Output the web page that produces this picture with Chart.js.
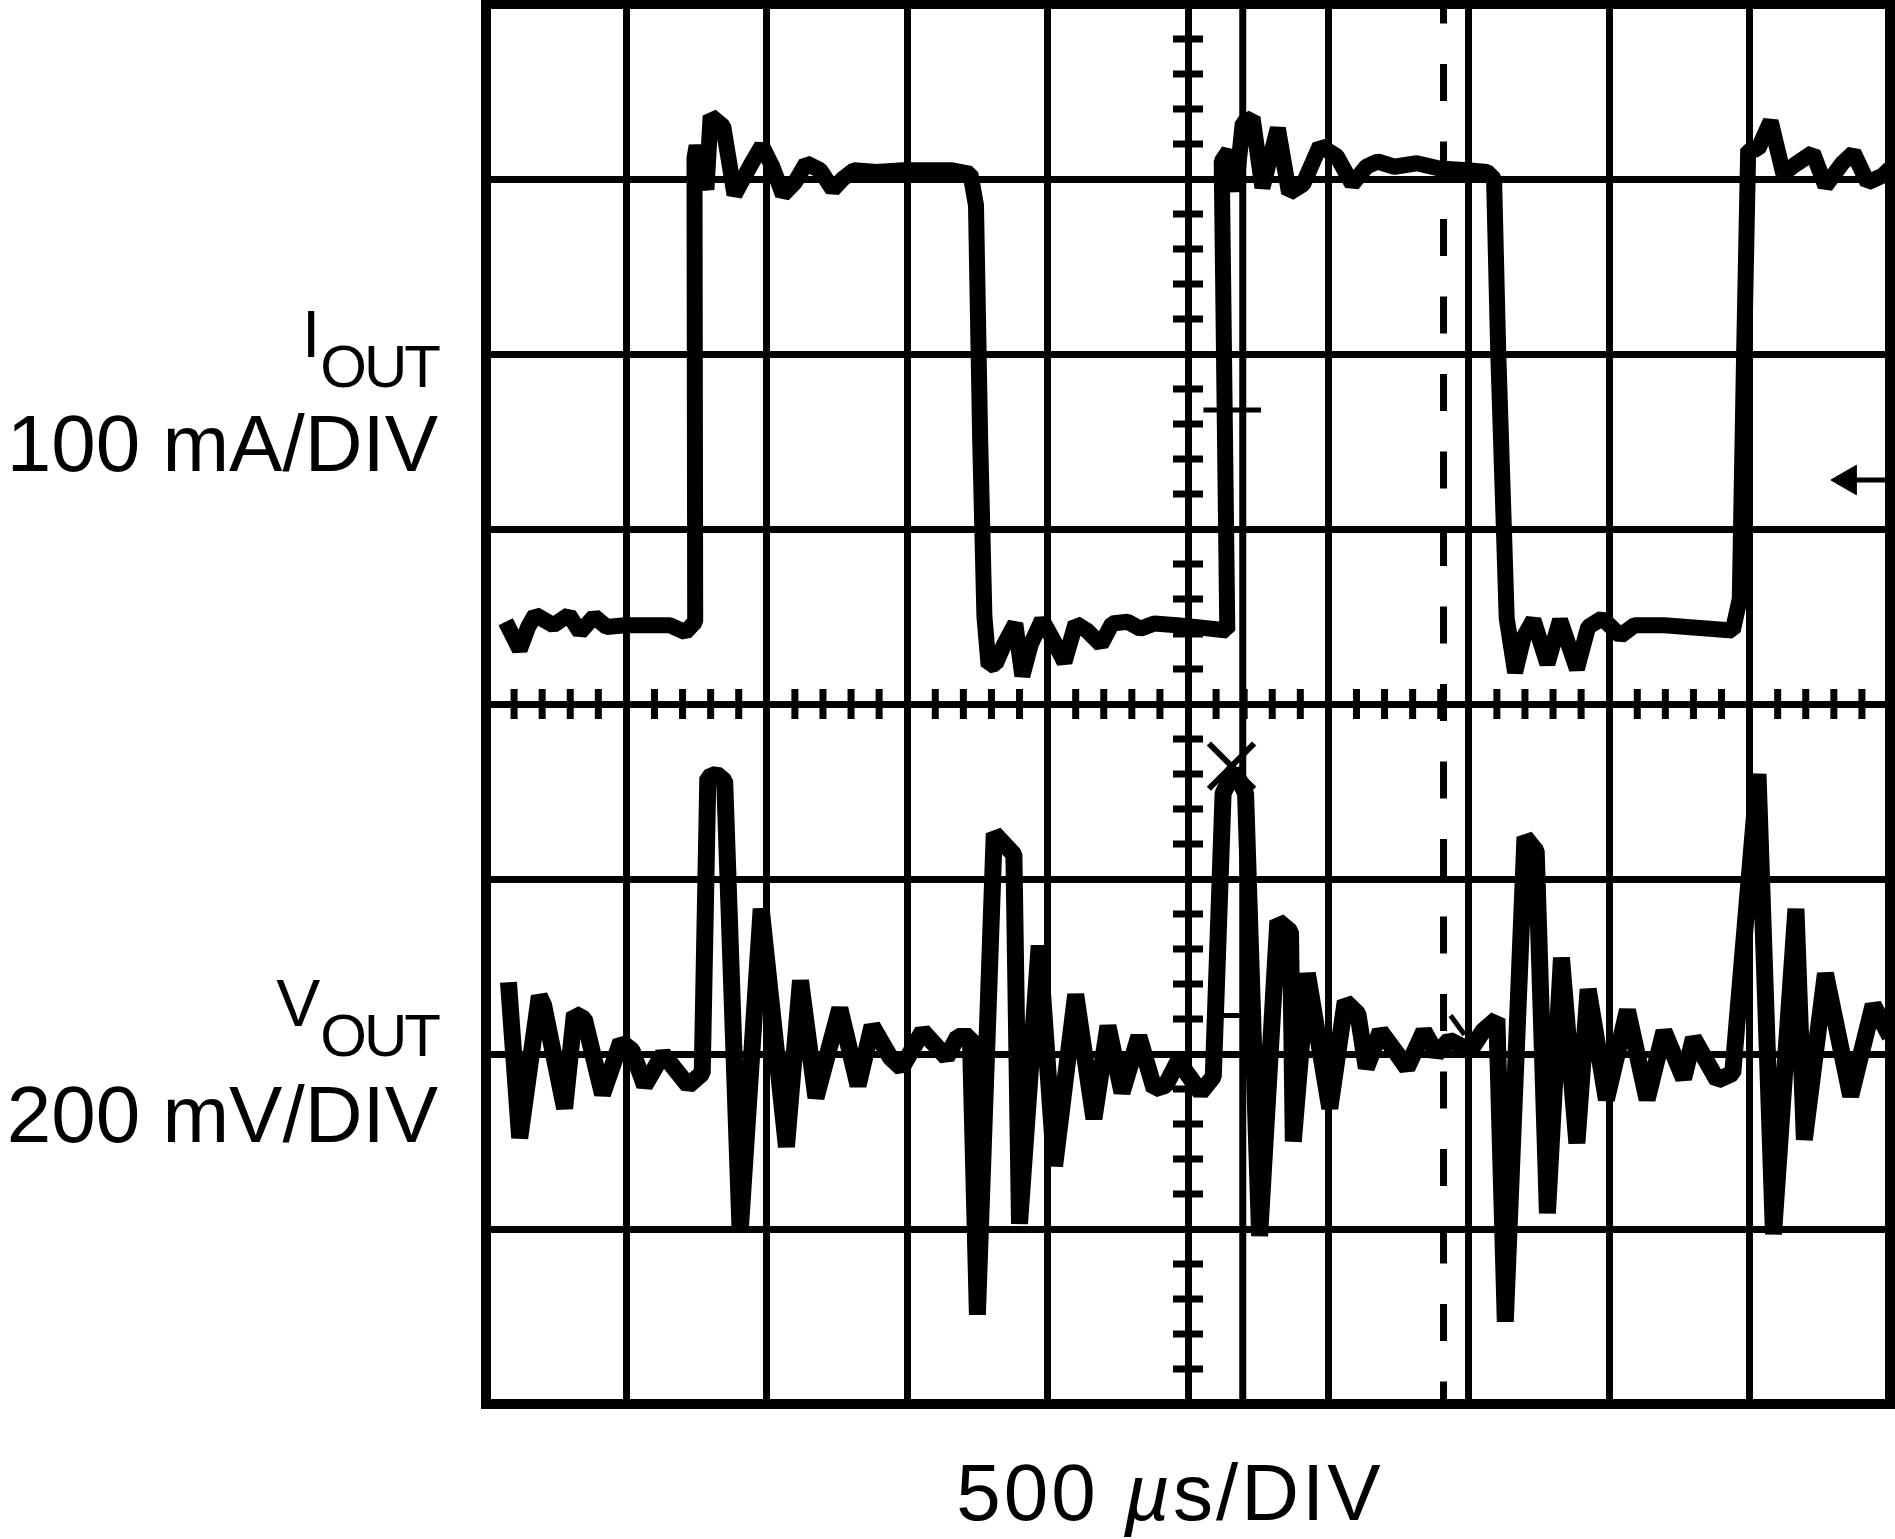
<!DOCTYPE html>
<html>
<head>
<meta charset="utf-8">
<script src="https://cdn.jsdelivr.net/npm/chart.js@4.4.1/dist/chart.umd.min.js"></script>
<style>
  html, body { margin: 0; padding: 0; background: #fff; }
  #wrap { position: relative; width: 1895px; height: 1539px; overflow: hidden; }
  #scope { position: absolute; left: 0; top: 0; }
  .lbl { position: absolute; white-space: nowrap; line-height: 1; color: #000;
         font-family: 'Liberation Sans', Arial, sans-serif; }
  .big { font-size: 80px; }
  .name { font-size: 66px; }
  .name .sub { position: relative; top: 30px; font-size: 60px; letter-spacing: -3px; }
</style>
</head>
<body>
<div id="wrap">
  <canvas id="scope" width="1895" height="1539"></canvas>
  <div class="lbl name" style="right:1457px; top:301px;">I<span class="sub">OUT</span></div>
  <div class="lbl big" style="right:1457px; top:404px;">100 mA/DIV</div>
  <div class="lbl name" style="right:1457px; top:970px;">V<span class="sub">OUT</span></div>
  <div class="lbl big" style="right:1457px; top:1075px;">200 mV/DIV</div>
  <div class="lbl big" style="left:1170px; top:1453px; transform:translateX(-50%); letter-spacing:3px;">500 <i>µ</i>s/DIV</div>
</div>
<script>
// 単位はすべて「目盛り(DIV)」: 横 0〜10, 縦 0〜8

// I_OUT (上側の波形)
const iOutTime = [0.14, 0.24, 0.30, 0.35, 0.48, 0.59, 0.67, 0.77, 0.86, 0.99, 1.31, 1.42, 1.49, 1.485, 1.50, 1.57, 1.60, 1.69, 1.77, 1.885,
  1.965, 2.04, 2.115, 2.20, 2.28, 2.38, 2.47, 2.54, 2.62, 2.78, 2.97, 3.32, 3.45, 3.49, 3.52, 3.55, 3.58, 3.63, 3.69, 3.77,
  3.82, 3.88, 3.96, 4.03, 4.12, 4.20, 4.28, 4.38, 4.46, 4.57, 4.66, 4.76, 4.92, 5.05, 5.28, 5.24, 5.29, 5.34, 5.39, 5.46,
  5.53, 5.64, 5.72, 5.82, 5.94, 6.06, 6.17, 6.27, 6.35, 6.47, 6.63, 6.79, 6.99, 7.13, 7.18, 7.21, 7.25, 7.27, 7.33, 7.39,
  7.46, 7.56, 7.65, 7.77, 7.85, 7.95, 8.08, 8.18, 8.39, 8.88, 8.93, 8.96, 8.99, 9.06, 9.15, 9.24, 9.32, 9.45, 9.54, 9.66,
  9.74, 9.84, 9.95, 10.0];
const iOutLevel = [4.47, 4.31, 4.44, 4.51, 4.45, 4.51, 4.41, 4.50, 4.44, 4.45, 4.45, 4.41, 4.47, 7.12, 7.19, 6.94, 7.36, 7.30, 6.91, 7.08,
  7.19, 7.07, 6.91, 6.98, 7.09, 7.05, 6.94, 7.00, 7.05, 7.04, 7.05, 7.05, 7.03, 6.85, 5.50, 4.50, 4.22, 4.23, 4.34, 4.46,
  4.16, 4.34, 4.48, 4.38, 4.24, 4.46, 4.42, 4.34, 4.46, 4.47, 4.43, 4.46, 4.45, 4.44, 4.42, 7.10, 7.16, 6.93, 7.32, 7.35,
  6.95, 7.29, 6.92, 6.97, 7.19, 7.13, 6.97, 7.07, 7.10, 7.07, 7.09, 7.06, 7.05, 7.04, 7.00, 6.00, 5.00, 4.49, 4.18, 4.38,
  4.48, 4.23, 4.48, 4.20, 4.44, 4.49, 4.39, 4.45, 4.45, 4.42, 4.60, 5.96, 7.17, 7.17, 7.33, 7.03, 7.08, 7.15, 6.96, 7.09,
  7.15, 6.98, 7.02, 7.06];

// V_OUT (下側の波形)
const vOutTime = [0.16, 0.24, 0.38, 0.41, 0.56, 0.63, 0.70, 0.83, 0.96, 1.04, 1.13, 1.26, 1.44, 1.54, 1.58, 1.64, 1.70, 1.81, 1.96, 2.14,
  2.24, 2.35, 2.52, 2.65, 2.75, 2.88, 2.96, 3.11, 3.28, 3.36, 3.45, 3.50, 3.62, 3.76, 3.80, 3.94, 4.05, 4.20, 4.33, 4.43,
  4.53, 4.65, 4.76, 4.84, 4.93, 5.09, 5.18, 5.25, 5.33, 5.41, 5.51, 5.64, 5.73, 5.75, 5.85, 6.01, 6.12, 6.21, 6.27, 6.37,
  6.49, 6.56, 6.68, 6.77, 6.86, 7.01, 7.10, 7.20, 7.26, 7.40, 7.48, 7.56, 7.66, 7.77, 7.85, 7.98, 8.13, 8.27, 8.39, 8.53,
  8.60, 8.77, 8.88, 9.06, 9.17, 9.33, 9.39, 9.54, 9.72, 9.88, 10.0];
const vOutLevel = [2.41, 1.52, 2.33, 2.28, 1.69, 2.23, 2.20, 1.77, 2.07, 2.02, 1.82, 2.00, 1.82, 1.89, 3.58, 3.60, 3.56, 0.98, 2.83, 1.47,
  2.42, 1.75, 2.26, 1.82, 2.16, 1.98, 1.92, 2.13, 1.98, 2.10, 2.10, 0.51, 3.26, 3.14, 1.03, 2.62, 1.36, 2.34, 1.63, 2.16,
  1.78, 2.10, 1.80, 1.82, 1.96, 1.78, 1.87, 3.49, 3.62, 3.49, 0.96, 2.76, 2.70, 1.50, 2.46, 1.69, 2.30, 2.23, 1.92, 2.13,
  2.00, 1.92, 2.13, 2.00, 2.08, 2.02, 2.13, 2.20, 0.47, 3.24, 3.16, 1.09, 2.55, 1.49, 2.37, 1.74, 2.25, 1.74, 2.13, 1.86,
  2.09, 1.85, 1.89, 3.60, 0.97, 2.83, 1.51, 2.46, 1.76, 2.28, 2.10];

// カーソル・マーカー
const cursorSolidX = 5.39;
const cursorDashX = 6.82;
const peakMark = { x: 5.31, y: 3.645 };
const levelMarkUpper = [5.11, 5.52, 5.68];   // x1, x2, y
const levelMarkLower = [5.22, 5.40, 2.22];
const slashMark = [6.87, 2.22, 6.97, 2.11];
const arrowMark = [9.58, 9.98, 5.28];        // 先端x, 終端x, y

const toPoints = (xs, ys) => xs.map((x, i) => ({ x: x, y: ys[i] }));

const BLACK = '#000';

function lineSet(points, width, extra) {
  return Object.assign({
    data: points,
    showLine: true,
    borderColor: BLACK,
    backgroundColor: BLACK,
    borderWidth: width,
    pointRadius: 0,
    pointHoverRadius: 0,
    tension: 0,
    borderJoinStyle: 'bevel',
  }, extra || {});
}

// 中心軸の小目盛り・外枠
const scopeDecor = {
  id: 'scopeDecor',
  beforeDatasetsDraw(chart) {
    const ctx = chart.ctx;
    const xs = chart.scales.x;
    const ys = chart.scales.y;
    const cx = xs.getPixelForValue(5);
    const cy = ys.getPixelForValue(4);
    const half = 15;
    ctx.save();
    ctx.strokeStyle = BLACK;
    ctx.lineWidth = 7;
    ctx.beginPath();
    for (let i = 1; i < 50; i++) {
      if (i % 5 === 0) continue;
      const px = xs.getPixelForValue(i / 5);
      ctx.moveTo(px, cy - half);
      ctx.lineTo(px, cy + half);
    }
    for (let i = 1; i < 40; i++) {
      if (i % 5 === 0) continue;
      const py = ys.getPixelForValue(i / 5);
      ctx.moveTo(cx - half, py);
      ctx.lineTo(cx + half, py);
    }
    ctx.stroke();
    ctx.restore();
  },
  afterDatasetsDraw(chart) {
    const a = chart.chartArea;
    const ctx = chart.ctx;
    ctx.save();
    ctx.strokeStyle = BLACK;
    ctx.lineWidth = 10;
    ctx.strokeRect(a.left, a.top, a.right - a.left, a.bottom - a.top);
    ctx.restore();
  }
};

const ctx = document.getElementById('scope').getContext('2d');
new Chart(ctx, {
  type: 'scatter',
  data: {
    datasets: [
      lineSet([{ x: cursorSolidX, y: 8 }, { x: cursorSolidX, y: 0 }], 7),
      lineSet([{ x: cursorDashX, y: 8 }, { x: cursorDashX, y: 0 }], 7, { borderDash: [37, 40.5], borderDashOffset: 17.5 }),
      lineSet(toPoints(iOutTime, iOutLevel), 16),
      lineSet(toPoints(vOutTime, vOutLevel), 17),
      lineSet([{ x: levelMarkUpper[0], y: levelMarkUpper[2] }, { x: levelMarkUpper[1], y: levelMarkUpper[2] }], 5),
      lineSet([{ x: levelMarkLower[0], y: levelMarkLower[2] }, { x: levelMarkLower[1], y: levelMarkLower[2] }], 5),
      lineSet([{ x: slashMark[0], y: slashMark[1] }, { x: slashMark[2], y: slashMark[3] }], 5),
      lineSet([{ x: arrowMark[0] + 0.1, y: arrowMark[2] }, { x: arrowMark[1], y: arrowMark[2] }], 5),
      {
        data: [{ x: arrowMark[0] + 0.12, y: arrowMark[2] }],
        showLine: false,
        pointStyle: 'triangle',
        rotation: 270,
        pointRadius: 17,
        pointHoverRadius: 17,
        backgroundColor: BLACK,
        borderColor: BLACK,
        borderWidth: 1,
      },
      {
        data: [peakMark],
        showLine: false,
        pointStyle: 'crossRot',
        pointRadius: 32,
        pointHoverRadius: 32,
        borderColor: BLACK,
        borderWidth: 6,
      },
    ],
  },
  options: {
    responsive: false,
    animation: false,
    events: [],
    layout: { autoPadding: false, padding: { left: 486, right: 5, top: 4, bottom: 135 } },
    plugins: { legend: { display: false }, tooltip: { enabled: false } },
    scales: {
      x: {
        type: 'linear', min: 0, max: 10,
        ticks: { display: false, stepSize: 1 },
        grid: { color: BLACK, lineWidth: 7, drawTicks: false },
        border: { display: false },
      },
      y: {
        type: 'linear', min: 0, max: 8,
        ticks: { display: false, stepSize: 1 },
        grid: { color: BLACK, lineWidth: 7, drawTicks: false },
        border: { display: false },
      },
    },
  },
  plugins: [scopeDecor],
});
</script>
</body>
</html>
